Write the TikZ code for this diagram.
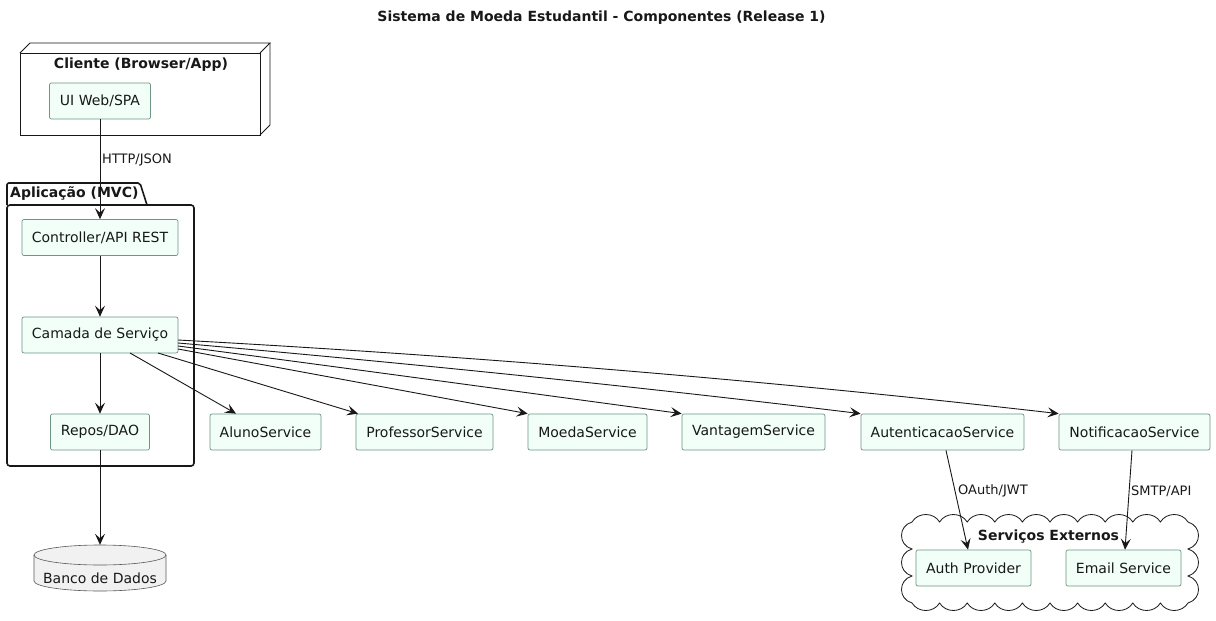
\documentclass[tikz,border=0pt]{standalone}
\usepackage{fontspec}
\setmainfont{DejaVu Sans}
\usetikzlibrary{arrows.meta}
\definecolor{compfill}{RGB}{241,255,248}
\definecolor{compborder}{RGB}{110,150,130}
\definecolor{dbfill}{RGB}{241,241,241}
\definecolor{ink}{RGB}{24,24,24}
\begin{document}
\begin{tikzpicture}[x=1pt,y=-1pt,
  every node/.style={font=\fontsize{14}{16}\selectfont, text=ink},
  comp/.style={draw=compborder, fill=compfill, rounded corners=2pt, minimum height=36pt, inner sep=0pt, line width=0.7pt},
  grp/.style={draw=ink, line width=0.9pt},
  pkg/.style={draw=ink, line width=1.6pt},
  lbl/.style={font=\fontsize{13}{15}\selectfont, anchor=west, inner sep=1pt},
  title/.style={font=\bfseries\fontsize{14}{16}\selectfont},
  conn/.style={draw=ink, line width=0.9pt, -{Stealth[length=11pt,width=10pt,inset=4.5pt]}}
]
\useasboundingbox (0,0) rectangle (1216,621);
\fill[white] (0,0) rectangle (1216,621);

% title
\node[title] (ttl) at (601.5,18) {Sistema de Moeda Estudantil - Componentes (Release 1)};

% Cliente node (3D box)
\draw[grp] (20,53) rectangle (260,135);
\draw[grp] (20,53) -- (30,43) -- (270,43) -- (260,53);
\draw[grp] (260,135) -- (270,125) -- (270,43);
\node[title] (clilbl) at (141,65) {Cliente (Browser/App)};
\node[comp, minimum width=101pt] (ui) at (100,101) {UI Web/SPA};

% Aplicacao package
\draw[pkg, rounded corners=2pt] (7,205) -- (7,183) -- (140,183) -- (147,205);
\draw[pkg, rounded corners=3pt] (7,205) rectangle (194,466);
\node[title, anchor=west, inner sep=0pt] (pkglbl) at (10,194) {Aplicação (MVC)};

\node[comp, minimum width=156pt] (ctrl) at (100,237.5) {Controller/API REST};
\node[comp, minimum width=156pt] (svc) at (100,335) {Camada de Serviço};
\node[comp, minimum width=99pt] (repo) at (100,432) {Repos/DAO};

% database
\node[minimum width=132pt, minimum height=46pt, inner sep=0pt] (db) at (100,568) {};
\draw[fill=dbfill, draw=gray!70!black, line width=0.6pt]
  (34,555) -- (34,581) arc[start angle=180, end angle=360, x radius=66, y radius=-10]
  -- (166,555) arc[start angle=0, end angle=180, x radius=66, y radius=-10] -- cycle;
\draw[draw=gray!70!black, line width=0.6pt] (34,555) arc[start angle=180, end angle=360, x radius=66, y radius=-10];
\node (dbtxt) at (100,578) {Banco de Dados};

% services row
\node[comp, minimum width=111pt] (aluno) at (265.5,432) {AlunoService};
\node[comp, minimum width=137pt] (prof) at (424.5,432) {ProfessorService};
\node[comp, minimum width=119pt] (moeda) at (587.5,432) {MoedaService};
\node[comp, minimum width=143pt] (vant) at (753.5,432) {VantagemService};
\node[comp, minimum width=163pt] (auten) at (942.5,432) {AutenticacaoService};
\node[comp, minimum width=151pt] (notif) at (1134.5,432) {NotificacaoService};

% cloud
\draw[grp, line width=0.8pt, fill=white] (912,522)
  \foreach \i in {0,...,9} { .. controls ({912+27.6*\i+6},512) and ({912+27.6*\i+21.6},512) .. ({912+27.6*(\i+1)},522) }
  \foreach \i in {0,...,2} { .. controls (1202,{522+27*\i+4}) and (1202,{522+27*\i+23}) .. (1188,{522+27*(\i+1)}) }
  \foreach \i in {0,...,9} { .. controls ({1188-27.6*\i-6},613) and ({1188-27.6*\i-21.6},613) .. ({1188-27.6*(\i+1)},603) }
  \foreach \i in {0,...,2} { .. controls (898,{603-27*\i-4}) and (898,{603-27*\i-23}) .. (912,{603-27*(\i+1)}) }
  -- cycle;
\node[title] (cloudlbl) at (1048.5,537) {Serviços Externos};
\node[comp, minimum width=115pt] (authp) at (973.5,568) {Auth Provider};
\node[comp, minimum width=115pt] (email) at (1123.5,568) {Email Service};

% connectors
\draw[conn] (ui.south) -- (ctrl.north);
\node[lbl] (httplbl) at (101,160) {HTTP/JSON};
\draw[conn] (ctrl.south) -- (svc.north);
\draw[conn] (svc.south) -- (repo.north);
\draw[conn] (repo.south) -- (db.north);

\coordinate (s1) at (130,353);
\coordinate (s2) at (158,353);
\coordinate (s3) at (178,349);
\coordinate (s4) at (178,346);
\coordinate (s5) at (178,343);
\coordinate (s6) at (178,340);
\draw[conn] (s1) -- (aluno.north -| 236,0);
\draw[conn] (s2) -- (prof.north -| 358,0);
\draw[conn] (s3) -- (moeda.north west);
\draw[conn] (s4) .. controls (346,368) and (514,391) .. (vant.north west);
\draw[conn] (s5) .. controls (406,363) and (633,386) .. (auten.north west);
\draw[conn] (s6) .. controls (472,356) and (765,380) .. (notif.north west);

\draw[conn] (auten.south -| 946,0) -- (authp.north -| 968,0);
\node[lbl] (oauth) at (957,491) {OAuth/JWT};
\draw[conn] (notif.south -| 1132,0) -- (email.north -| 1125,0);
\node[lbl] (smtp) at (1130,491) {SMTP/API};
\end{tikzpicture}
\end{document}
